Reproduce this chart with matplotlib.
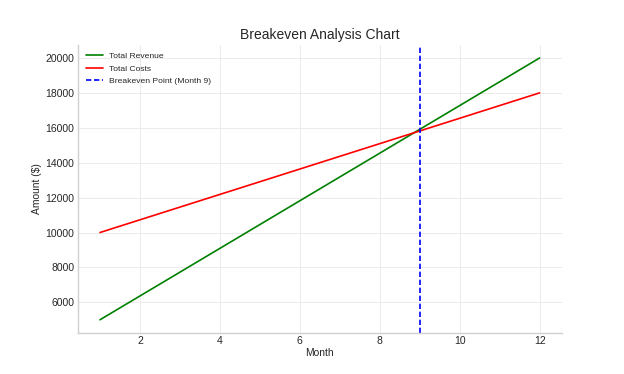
import matplotlib
matplotlib.use("Agg")
import matplotlib.pyplot as plt
import seaborn as sns

months = [1, 2, 3, 4, 5, 6, 7, 8, 9, 10, 11, 12]
revenue = [5000, 6364, 7727, 9091, 10455, 11818, 13182, 14545, 15909, 17273, 18636, 20000]
costs = [10000, 10727, 11455, 12182, 12909, 13636, 14364, 15091, 15818, 16545, 17273, 18000]
breakeven_month = 9

sns.set_style("whitegrid")
plt.rcParams['font.family'] = ['Liberation Sans', 'DejaVu Sans']

fig, ax = plt.subplots(figsize=(6.24, 3.74), dpi=100)
fig.subplots_adjust(left=0.125, right=0.9, bottom=0.11, top=0.88)

ax.plot(months, revenue, color='green', lw=1.2, label='Total Revenue')
ax.plot(months, costs, color='red', lw=1.2, label='Total Costs')
ax.axvline(breakeven_month, color='blue', ls='--', lw=1.2, dashes=(3.2, 1.6),
           label=f'Breakeven Point (Month {breakeven_month})')

ax.set_title('Breakeven Analysis Chart', fontsize=10, color='#262626', pad=4)
ax.set_xlabel('Month', fontsize=7.4, color='#262626', labelpad=1.2)
ax.set_ylabel('Amount ($)', fontsize=7.4, color='#262626', labelpad=2.3)
ax.tick_params(labelsize=7.5, colors='#262626', length=0, pad=2.5)
ax.grid(True, color='#ebebeb', lw=0.7)
for s in ['top', 'right']:
    ax.spines[s].set_visible(False)
for s in ['left', 'bottom']:
    ax.spines[s].set_color('#d0d0d0')
    ax.spines[s].set_linewidth(1.0)

ax.legend(loc='upper left', fontsize=6.1, frameon=False)

fig.savefig('out.png', dpi=100)
